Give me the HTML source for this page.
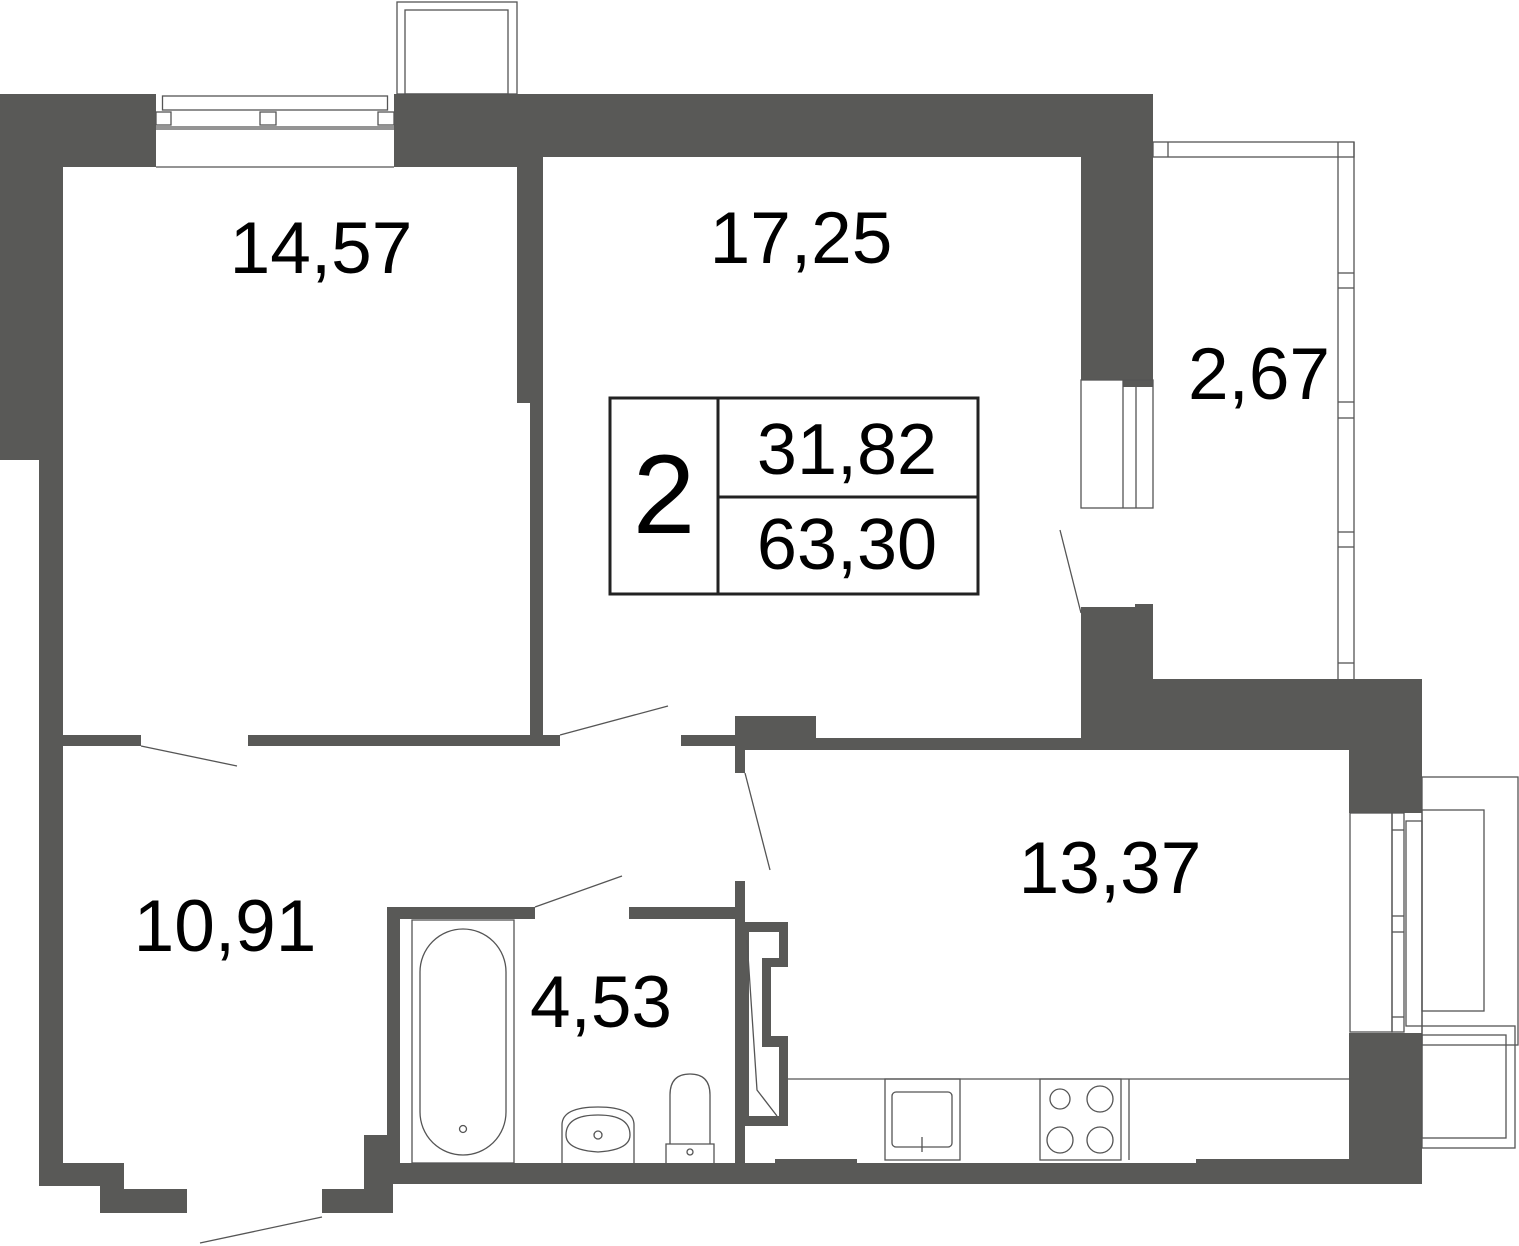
<!DOCTYPE html>
<html><head><meta charset="utf-8"><style>
html,body{margin:0;padding:0;background:#fff}
svg{display:block}
text{font-family:"Liberation Sans",Arial,sans-serif;fill:#000}
</style></head><body>
<svg width="1519" height="1246" viewBox="0 0 1519 1246" xmlns="http://www.w3.org/2000/svg">
<g fill="#595957">
<!-- top wall -->
<rect x="0" y="94" width="156" height="73"/>
<rect x="394" y="94" width="149" height="73"/>
<rect x="394" y="94" width="759" height="63"/>
<!-- left wall -->
<rect x="0" y="94" width="62" height="366"/>
<rect x="39" y="94" width="24" height="1092"/>
<rect x="39" y="1163" width="85" height="23"/>
<rect x="100" y="1163" width="24" height="50"/>
<rect x="100" y="1189" width="87" height="24"/>
<!-- entrance right -->
<rect x="322" y="1189" width="71" height="24"/>
<rect x="364" y="1135" width="29" height="78"/>
<!-- bottom wall -->
<rect x="364" y="1163" width="1058" height="21"/>
<rect x="775" y="1159" width="82" height="6"/>
<rect x="1196" y="1159" width="153" height="6"/>
<!-- partition 14,57 / 17,25 -->
<rect x="517" y="157" width="26" height="246"/>
<rect x="530" y="157" width="13" height="589"/>
<!-- corridor wall -->
<rect x="63" y="735" width="78" height="11"/>
<rect x="248" y="735" width="312" height="11"/>
<rect x="681" y="735" width="54" height="11"/>
<rect x="735" y="716" width="81" height="34"/>
<rect x="735" y="750" width="10" height="23"/>
<!-- kitchen top wall & right block -->
<rect x="816" y="738" width="265" height="12"/>
<rect x="1081" y="607" width="72" height="143"/>
<rect x="1135" y="604" width="18" height="10"/>
<rect x="1153" y="679" width="269" height="71"/>
<rect x="1349" y="679" width="73" height="134"/>
<rect x="1349" y="1033" width="73" height="151"/>
<!-- 17,25 right wall -->
<rect x="1081" y="94" width="72" height="286"/>
<rect x="1123" y="380" width="30" height="7"/>
<!-- bathroom walls -->
<rect x="387" y="907" width="13" height="256"/>
<rect x="387" y="907" width="148" height="12"/>
<rect x="629" y="907" width="106" height="12"/>
<rect x="735" y="881" width="10" height="282"/>
<!-- closet -->
<path d="M745 922 H788 V967 H771 V1036 H788 V1126 H745 Z M749 932 V1116 H779 V1047 H762 V958 H779 V932 Z" fill-rule="evenodd"/>
</g>
<g fill="none" stroke="#555" stroke-width="1.3">
<!-- top balcony box -->
<rect x="397" y="2" width="120" height="92"/>
<rect x="405" y="10" width="103" height="84"/>
<!-- top window -->
<rect x="162.5" y="96" width="225" height="14"/>
<rect x="156" y="112" width="15" height="13"/>
<rect x="260" y="112" width="16" height="13"/>
<rect x="378" y="112" width="16" height="13"/>
<line x1="156" y1="127" x2="394" y2="127"/>
<line x1="156" y1="129" x2="394" y2="129"/>
<line x1="156" y1="167" x2="394" y2="167"/>
<!-- door swings -->
<line x1="141" y1="746" x2="237" y2="766"/>
<line x1="560" y1="735" x2="668" y2="706"/>
<line x1="745" y1="773" x2="770" y2="870"/>
<line x1="535" y1="907" x2="622" y2="876"/>
<line x1="1060" y1="530" x2="1081" y2="613"/>
<line x1="200" y1="1243" x2="322" y2="1217"/>
<!-- 2,67 balcony -->
<rect x="1153" y="142" width="201" height="15"/>
<line x1="1168" y1="142" x2="1168" y2="157"/>
<line x1="1338" y1="142" x2="1338" y2="679"/>
<line x1="1354" y1="142" x2="1354" y2="679"/>
<line x1="1338" y1="273" x2="1354" y2="273"/><line x1="1338" y1="288" x2="1354" y2="288"/>
<line x1="1338" y1="402" x2="1354" y2="402"/><line x1="1338" y1="418" x2="1354" y2="418"/>
<line x1="1338" y1="532" x2="1354" y2="532"/><line x1="1338" y1="547" x2="1354" y2="547"/>
<line x1="1338" y1="663" x2="1354" y2="663"/>
<!-- wardrobe box in 17,25 -->
<rect x="1081" y="380" width="72" height="128"/>
<line x1="1123" y1="380" x2="1123" y2="508"/>
<line x1="1136" y1="387" x2="1136" y2="508"/>
<!-- kitchen window -->
<rect x="1350" y="813" width="42" height="219"/>
<rect x="1392" y="813" width="12" height="219"/>
<line x1="1392" y1="830" x2="1404" y2="830"/>
<line x1="1392" y1="916" x2="1404" y2="916"/>
<line x1="1392" y1="932" x2="1404" y2="932"/>
<line x1="1392" y1="1017" x2="1404" y2="1017"/>
<rect x="1406" y="821" width="16" height="205"/>
<!-- right balconies -->
<rect x="1422" y="777" width="96" height="268"/>
<rect x="1422" y="810" width="62" height="201"/>
<rect x="1422" y="1026" width="93" height="122"/>
<rect x="1422" y="1035" width="84" height="103"/>
<!-- kitchen counter -->
<line x1="788" y1="1079" x2="1349" y2="1079"/>
<rect x="885" y="1079" width="75" height="81"/>
<rect x="892" y="1092" width="60" height="55" rx="4"/>
<line x1="922" y1="1137" x2="922" y2="1152"/>
<rect x="1040" y="1079" width="81" height="81"/>
<line x1="1129" y1="1079" x2="1129" y2="1160"/>
<circle cx="1060" cy="1099" r="10"/>
<circle cx="1100" cy="1099" r="13"/>
<circle cx="1060" cy="1140" r="13"/>
<circle cx="1100" cy="1140" r="13"/>
<!-- closet diagonal -->
<polyline points="747,940 757,1090 777,1116"/>
<!-- bathroom fixtures -->
<rect x="412" y="920" width="102" height="243"/>
<rect x="420" y="929" width="86" height="226" rx="43"/>
<circle cx="463" cy="1129" r="3.5"/>
<path d="M562 1163 V1125 Q562 1107 598 1107 Q634 1107 634 1125 V1163"/>
<path d="M566 1135 Q566 1115 598 1115 Q630 1115 630 1135 Q630 1150 598 1152 Q566 1150 566 1135 Z"/>
<circle cx="598" cy="1135" r="4"/>
<path d="M666 1163 V1144 H714 V1163"/>
<path d="M670 1144 V1095 Q670 1074 690 1074 Q710 1074 710 1095 V1144"/>
<circle cx="690" cy="1152" r="3"/>
</g>
<!-- info box -->
<g fill="none" stroke="#222" stroke-width="3">
<rect x="610" y="398" width="368" height="196"/>
<line x1="718" y1="398" x2="718" y2="594"/>
<line x1="718" y1="497" x2="978" y2="497"/>
</g>
<g font-size="73" text-anchor="middle">
<text x="321" y="273">14,57</text>
<text x="801" y="263">17,25</text>
<text x="1259" y="399">2,67</text>
<text x="225" y="951">10,91</text>
<text x="601" y="1027">4,53</text>
<text x="1110" y="893">13,37</text>
<text x="847" y="474" font-size="72" fill="#222">31,82</text>
<text x="847" y="569" font-size="72" fill="#222">63,30</text>
<text x="664" y="533" font-size="112" fill="#222">2</text>
</g>
</svg>
</body></html>
